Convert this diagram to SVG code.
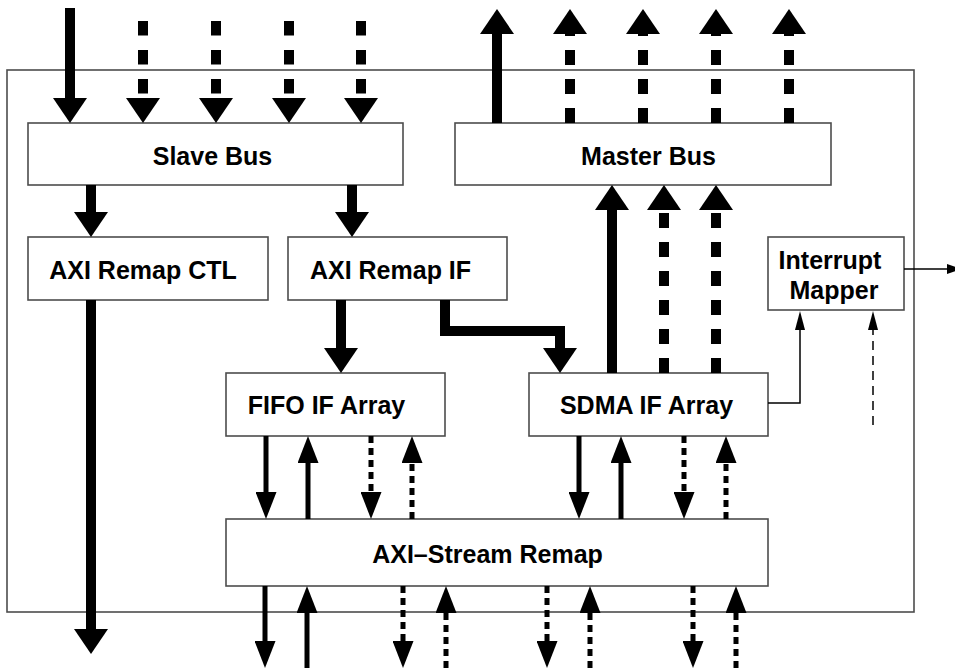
<svg xmlns="http://www.w3.org/2000/svg" width="955" height="668" viewBox="0 0 955 668">
  <style>
    .frame { fill: none; stroke: #4d4d4d; stroke-width: 1.6; }
    .box { fill: #ffffff; stroke: #4d4d4d; stroke-width: 1.6; }
    .lbl { font-family: "Liberation Sans", Arial, Helvetica, sans-serif; font-weight: bold; font-size: 25px; fill: #000000; text-anchor: middle; }
    .thick { fill: none; stroke: #000000; stroke-width: 10; stroke-linejoin: miter; marker-end: url(#head-big); }
    .med { fill: none; stroke: #000000; stroke-width: 5; marker-end: url(#head-med); }
    .thin { fill: none; stroke: #000000; stroke-width: 1.5; marker-end: url(#head-thin); }
    .dash-big { stroke-dasharray: 14.5 14.5; }
    .dash-med { stroke-dasharray: 7 5; }
    .dash-thin { stroke-dasharray: 9 6; }
  </style>
  <defs>
    <marker id="head-big" viewBox="0 0 25 34" markerUnits="userSpaceOnUse" markerWidth="25" markerHeight="34" refX="0" refY="17" orient="auto">
      <path d="M0,0 L25,17 L0,34 Z" fill="#000000"/>
    </marker>
    <marker id="head-med" viewBox="0 0 27 21" markerUnits="userSpaceOnUse" markerWidth="27" markerHeight="21" refX="0" refY="10.5" orient="auto">
      <path d="M0,0 L27,10.5 L0,21 Z" fill="#000000"/>
    </marker>
    <marker id="head-thin" viewBox="0 0 19 10" markerUnits="userSpaceOnUse" markerWidth="19" markerHeight="10" refX="0" refY="5" orient="auto">
      <path d="M0,0 L19,5 L0,10 Z" fill="#000000"/>
    </marker>
    <marker id="head-out" viewBox="0 0 15 10" markerUnits="userSpaceOnUse" markerWidth="15" markerHeight="10" refX="0" refY="5" orient="auto">
      <path d="M0,0 L15,5 L0,10 Z" fill="#000000"/>
    </marker>
  </defs>

  <!-- outer block boundary -->
  <rect class="frame" x="7" y="70" width="907" height="542"/>

  <g id="slave-bus">
    <rect class="box" x="28" y="123" width="375" height="62"/>
    <text class="lbl" x="212.5" y="165">Slave Bus</text>
  </g>
  <g id="master-bus">
    <rect class="box" x="455" y="123" width="376" height="62"/>
    <text class="lbl" x="648.5" y="165">Master Bus</text>
  </g>
  <g id="axi-remap-ctl">
    <rect class="box" x="28" y="237" width="240" height="63"/>
    <text class="lbl" x="143" y="279">AXI Remap CTL</text>
  </g>
  <g id="axi-remap-if">
    <rect class="box" x="288" y="237" width="219" height="63"/>
    <text class="lbl" x="390.5" y="279">AXI Remap IF</text>
  </g>
  <g id="interrupt-mapper">
    <rect class="box" x="768" y="237" width="136" height="73"/>
    <text class="lbl" x="830" y="269">Interrupt</text>
    <text class="lbl" x="834" y="299">Mapper</text>
  </g>
  <g id="fifo-if-array">
    <rect class="box" x="226" y="373" width="219" height="63"/>
    <text class="lbl" x="326.5" y="414">FIFO IF Array</text>
  </g>
  <g id="sdma-if-array">
    <rect class="box" x="529" y="373" width="239" height="63"/>
    <text class="lbl" x="646.5" y="414">SDMA IF Array</text>
  </g>
  <g id="axi-stream-remap">
    <rect class="box" x="226" y="519" width="542" height="67"/>
    <text class="lbl" x="487.5" y="563">AXI–Stream Remap</text>
  </g>

  <g id="connectors">
    <!-- slave bus inputs -->
    <path class="thick" d="M70,8 V98"/>
    <path class="thick dash-big" d="M143,21 V98"/>
    <path class="thick dash-big" d="M216,21 V98"/>
    <path class="thick dash-big" d="M289,21 V98"/>
    <path class="thick dash-big" d="M361,21 V98"/>
    <!-- master bus outputs -->
    <path class="thick" d="M497,123 V34"/>
    <path class="thick" style="stroke-dasharray:15 14" d="M570,123 V34"/>
    <path class="thick" style="stroke-dasharray:15 14" d="M643,123 V34"/>
    <path class="thick" style="stroke-dasharray:15 14" d="M716,123 V34"/>
    <path class="thick" style="stroke-dasharray:15 14" d="M789,123 V34"/>
    <!-- slave bus to remap blocks -->
    <path class="thick" d="M91,185 V212"/>
    <path class="thick" d="M352,185 V212"/>
    <!-- remap control leaves the block -->
    <path class="thick" d="M91,300 V629"/>
    <!-- remap IF to the arrays -->
    <path class="thick" d="M341,300 V348"/>
    <path class="thick" d="M445,300 V331 H560 V348"/>
    <!-- SDMA to master bus -->
    <path class="thick" d="M612,373 V210"/>
    <path class="thick" style="stroke-dasharray:15 14" d="M664,373 V210"/>
    <path class="thick" style="stroke-dasharray:15 14" d="M716,373 V210"/>

    <!-- FIFO IF array <-> stream remap -->
    <path class="med" d="M266,436 V492"/>
    <path class="med" d="M308,519 V463"/>
    <path class="med dash-med" d="M371,436 V492"/>
    <path class="med dash-med" d="M412,519 V463"/>
    <!-- SDMA IF array <-> stream remap -->
    <path class="med" d="M579,436 V492"/>
    <path class="med" d="M621,519 V463"/>
    <path class="med dash-med" d="M684,436 V492"/>
    <path class="med dash-med" d="M726,519 V463"/>
    <!-- stream ports -->
    <path class="med" d="M265,586 V641"/>
    <path class="med" d="M307,668 V613"/>
    <path class="med dash-med" d="M403,586 V641"/>
    <path class="med dash-med" d="M446,668 V613"/>
    <path class="med dash-med" d="M547,586 V641"/>
    <path class="med dash-med" d="M590,668 V613"/>
    <path class="med dash-med" d="M693,586 V641"/>
    <path class="med dash-med" d="M736,668 V613"/>

    <!-- interrupts -->
    <path class="thin" d="M768,403 H800 V330"/>
    <path class="thin dash-thin" d="M873,425 V330"/>
    <path class="thin" style="marker-end:url(#head-out)" d="M904,269 H947"/>
  </g>
</svg>
